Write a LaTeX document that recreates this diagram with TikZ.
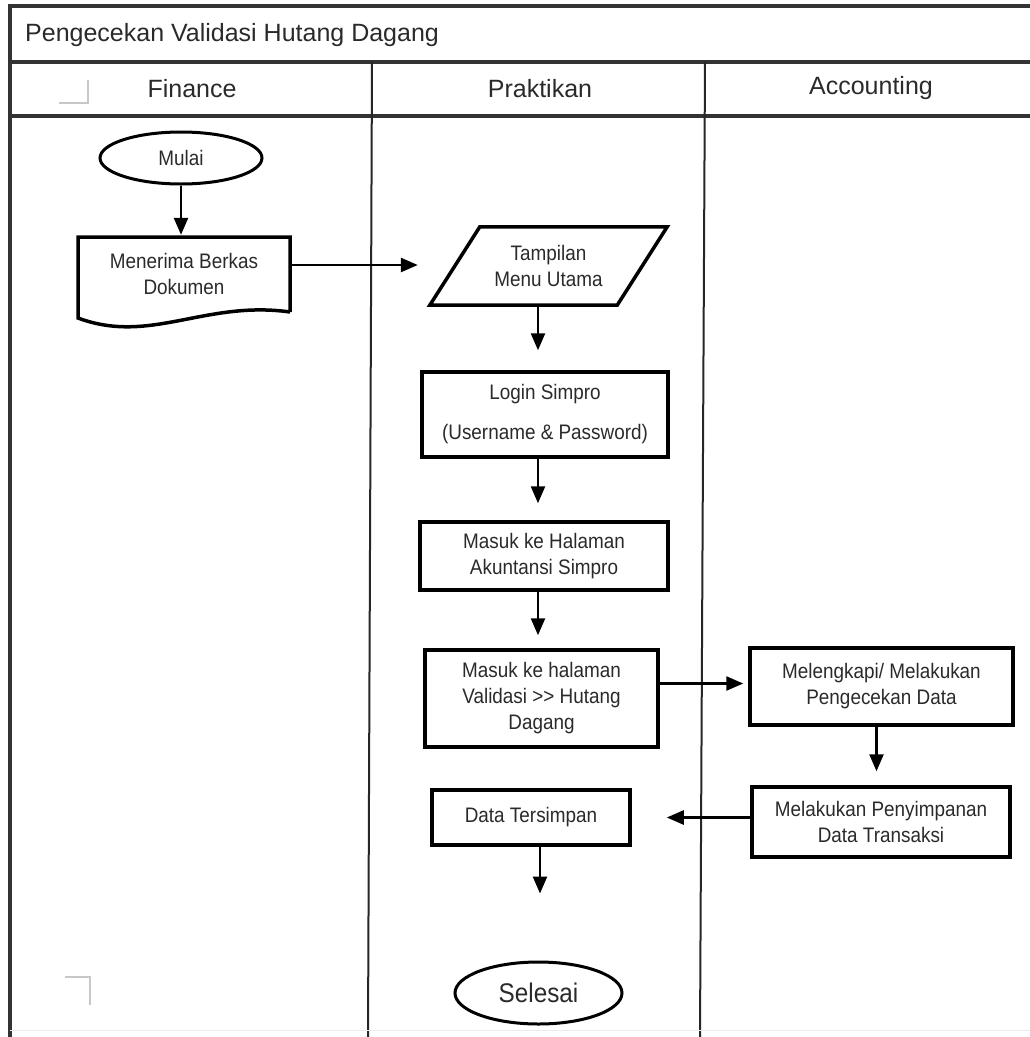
\documentclass[tikz,border=0pt]{standalone}
\usepackage{fontspec}
\setmainfont{Liberation Sans}
\newfontfamily\boxfont[FakeStretch=0.9]{Liberation Sans}
\usetikzlibrary{shapes.geometric,arrows.meta}
\definecolor{txt}{HTML}{2A2A2A}
\definecolor{mark}{HTML}{C8C8C8}
\tikzset{
  proc/.style={draw=black, line width=3.5pt, rectangle, align=center, inner sep=0pt,
    text=txt, font=\boxfont\fontsize{21}{26}\selectfont},
  textonly/.style={rectangle, align=center, inner sep=0pt,
    text=txt, font=\boxfont\fontsize{21}{26}\selectfont},
  term/.style={draw=black, line width=3pt, ellipse, inner sep=0pt, text=txt},
  arr/.style={-{Triangle[length=17pt,width=14pt]}, line width=2.5pt},
  lane/.style={line width=2pt, draw=black!85},
  frame/.style={line width=3.2pt, draw=black!80},
  hdr/.style={text=txt, font=\fontsize{25}{29}\selectfont, inner sep=0pt},
  cmark/.style={line width=1.5pt, draw=mark}
}
\begin{document}
\begin{tikzpicture}[x=1pt,y=-1pt]
\useasboundingbox (0,0) rectangle (1030,1037);
% frame and lanes
\draw[frame] (10,1037) -- (10,6) -- (1030,6);
\draw[frame] (10,62) -- (1030,62);
\draw[frame] (10,116) -- (1030,116);
\draw[lane] (372,62) -- (368,1037);
\draw[lane] (705,62) -- (700,1037);
\draw[line width=1pt, draw=black!8] (10,1030) -- (1030,1030);
% titles
\node[hdr, anchor=west] (title) at (25,35) {Pengecekan Validasi Hutang Dagang};
\node[hdr] (hfin) at (192,89) {Finance};
\node[hdr] (hpra) at (540,89) {Praktikan};
\node[hdr] (hacc) at (871,88) {Accounting};
% corner marks
\draw[cmark] (59,103) -- (88,103) -- (88,80);
\draw[cmark] (65,977) -- (90,977) -- (90,1005);
% nodes
\node[term, minimum width=162pt, minimum height=52pt, font=\boxfont\fontsize{21}{25}\selectfont] (mulai) at (181,158) {Mulai};
\node[textonly, minimum width=212pt, minimum height=74pt] (doc) at (184,274) {Menerima Berkas\\Dokumen};
\draw[black, line width=3.5pt, line join=miter]
  (290,312) -- (290,237) -- (78,237) -- (78,318)
  .. controls (150,345) and (205,300) .. (290,312);
\node[textonly, minimum width=237pt, minimum height=78pt] (para) at (548.5,266) {Tampilan\\Menu Utama};
\draw[black, line width=3.5pt, line join=miter]
  ([xshift=50pt]para.north west) -- (para.north east) -- ([xshift=-50pt]para.south east) -- (para.south west) -- cycle;
\node[proc, minimum width=246pt, minimum height=85pt] (login) at (545,414.5) {Login Simpro\\[14pt](Username \& Password)};
\node[proc, minimum width=248pt, minimum height=68pt] (masuk) at (544,556) {Masuk ke Halaman\\Akuntansi Simpro};
\node[proc, minimum width=233pt, minimum height=97pt] (valid) at (541.5,698.5) {Masuk ke halaman\\Validasi >{}> Hutang\\Dagang};
\node[proc, minimum width=263pt, minimum height=77pt] (lengkap) at (881.5,686.5) {Melengkapi/ Melakukan\\Pengecekan Data};
\node[proc, minimum width=258pt, minimum height=70pt] (simpan) at (881,822) {Melakukan Penyimpanan\\Data Transaksi};
\node[proc, minimum width=198pt, minimum height=55pt] (data) at (531,817.5) {Data Tersimpan};
\node[term, minimum width=167pt, minimum height=62pt, font=\boxfont\fontsize{27}{31}\selectfont] (selesai) at (538.5,993) {Selesai};
% connectors
\draw[arr, shorten >=2pt] (mulai.south) -- (mulai.south |- doc.north);
\draw[arr, shorten >=12pt] ([yshift=9pt]doc.east) -- ([yshift=9pt]doc.east -| para.west);
\draw[arr, shorten >=20pt] (para.south -| login.north) ++(-7,0) coordinate (p1) -- (p1 |- login.north);
\draw[arr, shorten >=17pt] ([xshift=-7pt]login.south) -- ([xshift=-7pt]login.south |- masuk.north);
\draw[arr, shorten >=13pt] ([xshift=-6pt]masuk.south) -- ([xshift=-6pt]masuk.south |- valid.north);
\draw[arr, shorten >=5pt] ([yshift=3pt]lengkap.west -| valid.east) -- ([yshift=3pt]lengkap.west);
\draw[arr, shorten >=14pt] ([xshift=-5pt]lengkap.south) -- ([xshift=-5pt]lengkap.south |- simpan.north);
\draw[arr, shorten >=35pt] (simpan.west |- data.east) -- (data.east);
\draw[arr, shorten >=67pt] ([xshift=9pt]data.south) -- ([xshift=9pt]data.south |- selesai.north);
\end{tikzpicture}
\end{document}
